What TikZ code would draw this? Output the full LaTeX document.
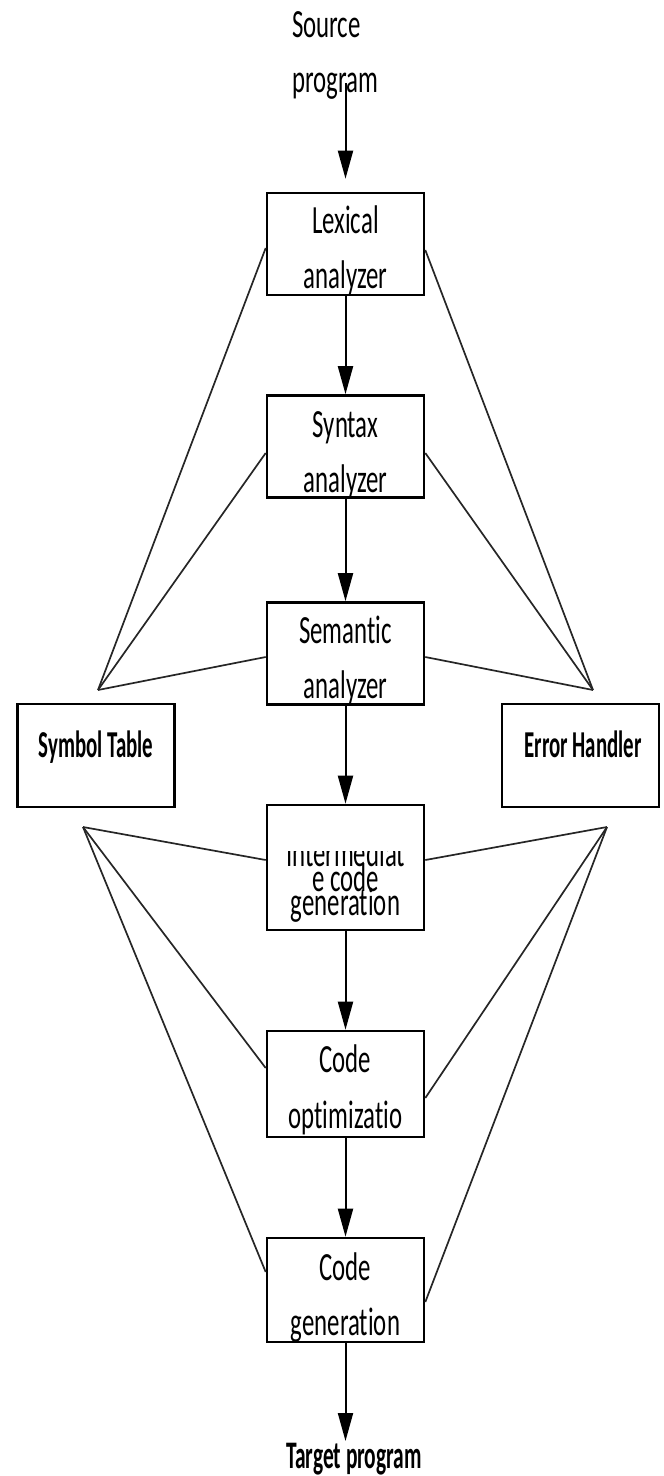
\documentclass[tikz,border=0pt]{standalone}
\usepackage{fontspec}
\setmainfont{Carlito}
\newfontfamily\boxfont[FakeStretch=0.62, Ligatures=NoCommon]{Carlito}
\newfontfamily\sidefont[FakeStretch=0.55, Ligatures=NoCommon]{Carlito}
\usetikzlibrary{arrows.meta}

\begin{document}
\begin{tikzpicture}[x=1pt,y=-1pt,
  stage/.style={draw, line width=2.6pt, minimum width=157pt, minimum height=102pt, inner sep=0pt},
  store/.style={draw, line width=2.6pt, minimum width=157pt, minimum height=103pt, inner sep=0pt},
  txt/.style={font=\boxfont\fontsize{40}{40}\selectfont, inner sep=0pt, anchor=base},
  side/.style={font=\sidefont\bfseries\fontsize{38}{38}\selectfont, inner sep=0pt, anchor=base},
  flow/.style={line width=2pt, -{Triangle[length=28pt,width=15pt]}},
  link/.style={line width=1.7pt, black!85}]
\useasboundingbox (0,0) rectangle (664,1476);

% compiler phases
\node[stage] (lex) at (345.5,244) {};
\node[stage] (syn) at (345.5,446.5) {};
\node[stage] (sem) at (345.5,653.5) {};
\node[stage, minimum height=125pt] (icg) at (345.5,867.5) {};
\node[stage, minimum height=106pt] (opt) at (345.5,1084) {};
\node[stage, minimum height=104pt] (gen) at (345.5,1290) {};

% shared components
\node[store] (sym) at (96,755.5) {};
\node[store] (err) at (580.5,755.5) {};

% phase labels
\node[txt] (lexA) at (345.5,233) {Lexical};
\node[txt] (lexB) at (345.5,288) {analyzer};
\node[txt] (synA) at (345.5,437) {Syntax};
\node[txt] (synB) at (345.5,492) {analyzer};
\node[txt] (semA) at (345.5,643) {Semantic};
\node[txt] (semB) at (345.5,698) {analyzer};
\begin{scope}
  \clip (267,851) rectangle (424,930);
  \node[txt] (icgA) at (345.5,866) {Intermediat};
\end{scope}
\node[txt] (icgB) at (345.5,891) {e code};
\node[txt] (icgC) at (345.5,915) {generation};
\node[txt] (optA) at (345.5,1072) {Code};
\node[txt] (optB) at (345.5,1128) {optimizatio};
\node[txt] (genA) at (345.5,1280) {Code};
\node[txt] (genB) at (345.5,1335) {generation};

\node[side] (symA) at (96,757) {Symbol Table};
\node[side] (errA) at (583,757) {Error Handler};

% input and output
\node[txt, anchor=base west] (srcA) at (292,37) {Source};
\node[txt, anchor=base west] (srcB) at (292,92) {program};
\node[side, font=\sidefont\bfseries\fontsize{39}{39}\selectfont] (tgt) at (354,1468) {Target program};
\coordinate (srcfoot) at (345.5,83);
\coordinate (tgthead) at (345.5,1441);

% main flow
\draw[flow, shorten >=13pt] (srcfoot) -- (lex.north);
\draw[flow] (lex.south) -- (syn.north);
\draw[flow] (syn.south) -- (sem.north);
\draw[flow] (sem.south) -- (icg.north);
\draw[flow] (icg.south) -- (opt.north);
\draw[flow] (opt.south) -- (gen.north);
\draw[flow] (gen.south) -- (tgthead);

% fan-in points of the side components
\coordinate (lt) at (98,690);
\coordinate (rt) at (593,690);
\coordinate (lb) at (83,827);
\coordinate (rb) at (607,827);

\draw[link] (lt) -- ([yshift=-4pt]lex.west);
\draw[link] (lt) -- ([yshift=-6.5pt]syn.west);
\draw[link] (lt) -- ([yshift=-3.5pt]sem.west);
\draw[link] (rt) -- ([yshift=-6pt]lex.east);
\draw[link] (rt) -- ([yshift=-6.5pt]syn.east);
\draw[link] (rt) -- ([yshift=-3.5pt]sem.east);
\draw[link] (lb) -- ([yshift=7.5pt]icg.west);
\draw[link] (lb) -- ([yshift=16pt]opt.west);
\draw[link] (lb) -- ([yshift=18pt]gen.west);
\draw[link] (rb) -- ([yshift=7.5pt]icg.east);
\draw[link] (rb) -- ([yshift=-14pt]opt.east);
\draw[link] (rb) -- ([yshift=-12pt]gen.east);
\end{tikzpicture}
\end{document}
